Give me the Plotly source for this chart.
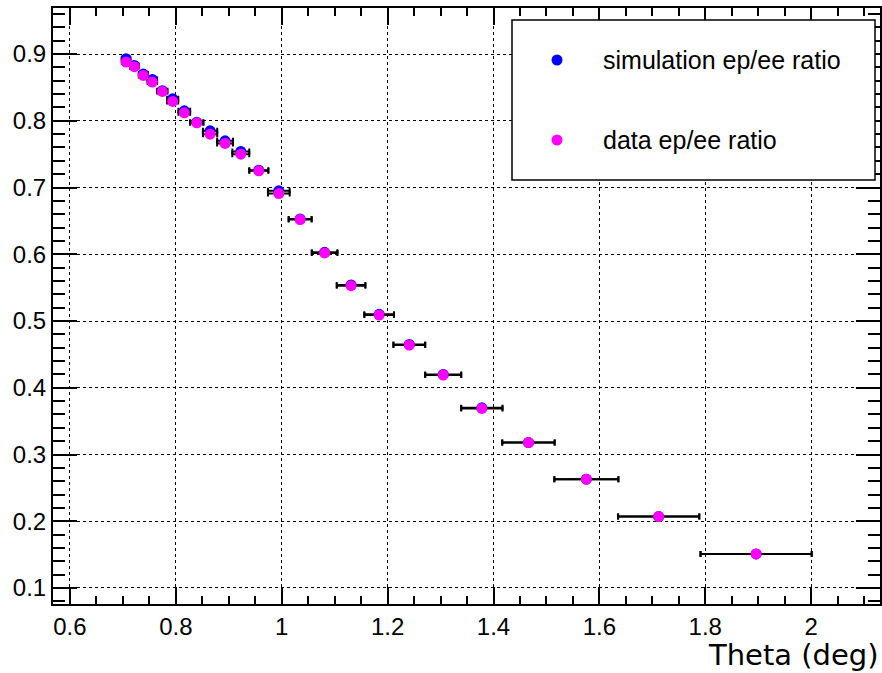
import plotly.graph_objects as go

# ---- data ----
theta = [0.706, 0.7216, 0.7386, 0.7556, 0.7745, 0.794, 0.816, 0.8395, 0.8647, 0.893,
         0.9227, 0.9567, 0.9945, 1.0348, 1.081, 1.131, 1.184, 1.241, 1.305, 1.378,
         1.466, 1.5754, 1.712, 1.896]
theta_err = [0.008, 0.008, 0.0085, 0.009, 0.0095, 0.0105, 0.011, 0.0125, 0.0135, 0.015,
             0.016, 0.018, 0.0205, 0.0217, 0.0242, 0.027, 0.028, 0.030, 0.034, 0.039,
             0.0495, 0.0605, 0.0767, 0.105]
sim_ratio = [0.893, 0.883, 0.870, 0.862, 0.845, 0.833, 0.815, 0.798, 0.785, 0.770,
             0.754, 0.726, 0.695, 0.653, 0.603, 0.554, 0.510, 0.465, 0.420, 0.370,
             0.318, 0.263, 0.207, 0.151]
data_ratio = [0.888, 0.881, 0.868, 0.858, 0.844, 0.829, 0.812, 0.797, 0.780, 0.766,
              0.750, 0.725, 0.691, 0.652, 0.602, 0.553, 0.509, 0.464, 0.419, 0.369,
              0.318, 0.263, 0.207, 0.151]
series_names = ["simulation ep/ee ratio", "data ep/ee ratio"]
x_title = "Theta (deg)"

W, H = 882, 673
L, R, T, B = 53, 2, 8, 69
pw, ph = W - L - R, H - T - B

def px_x(p):
    return (p - L) / pw

def px_y(p):
    return (H - B - p) / ph

err = dict(type="data", array=theta_err, visible=True, color="black", thickness=2, width=3)

fig = go.Figure()
fig.add_trace(go.Scatter(x=theta, y=sim_ratio, mode="markers", name=series_names[0],
                         marker=dict(color="#0000ff", size=11, line=dict(width=0)),
                         error_x=err))
fig.add_trace(go.Scatter(x=theta, y=data_ratio, mode="markers", name=series_names[1],
                         marker=dict(color="#ff00ff", size=11, line=dict(width=0)),
                         error_x=err))

FONT = "Arial"
tickfont = dict(family=FONT, size=24, color="black")

fig.update_layout(
    width=W, height=H,
    margin=dict(l=L, r=R, t=T, b=B),
    paper_bgcolor="white", plot_bgcolor="white",
    showlegend=False,
    font=dict(family=FONT),
    xaxis=dict(range=[0.568, 2.13], dtick=0.2, tick0=0, ticks="inside", ticklen=17,
               tickwidth=1.5, tickcolor="black", showline=True, linecolor="black",
               linewidth=2, mirror="allticks", showgrid=True, gridcolor="black",
               griddash="dot", gridwidth=1, zeroline=False, tickfont=tickfont,
               automargin=False,
               minor=dict(dtick=0.05, ticks="inside", ticklen=8, tickwidth=1.5,
                          tickcolor="black", showgrid=False)),
    yaxis=dict(range=[0.076, 0.969], dtick=0.1, tick0=0, ticks="inside", ticklen=24,
               tickwidth=1.5, tickcolor="black", showline=True, linecolor="black",
               linewidth=2, mirror="allticks", showgrid=True, gridcolor="black",
               griddash="dot", gridwidth=1, zeroline=False, tickfont=tickfont,
               automargin=False,
               minor=dict(dtick=0.02, ticks="inside", ticklen=12, tickwidth=1.5,
                          tickcolor="black", showgrid=False)),
)

# legend box drawn manually to match the reference layout
fig.add_shape(type="rect", xref="paper", yref="paper",
              x0=px_x(512), x1=px_x(875), y0=px_y(180), y1=px_y(20),
              line=dict(color="black", width=1.5), fillcolor="white", layer="above")
for cy, col in [(60, "#0000ff"), (140, "#ff00ff")]:
    fig.add_shape(type="circle", xref="paper", yref="paper",
                  xsizemode="pixel", ysizemode="pixel",
                  xanchor=px_x(557), yanchor=px_y(cy),
                  x0=-5.5, x1=5.5, y0=-5.5, y1=5.5,
                  line=dict(width=0), fillcolor=col, layer="above")
for cy, name in [(60, series_names[0]), (140, series_names[1])]:
    fig.add_annotation(x=px_x(601), y=px_y(cy), xref="paper", yref="paper",
                       text=name, showarrow=False, xanchor="left", yanchor="middle",
                       font=dict(family=FONT, size=25, color="black"))

fig.add_annotation(x=1, y=px_y(673), xref="paper", yref="paper", text=x_title,
                   showarrow=False, xanchor="right", yanchor="bottom", borderpad=0,
                   font=dict(family="DejaVu Sans", size=29, color="black"))

fig.write_html("out.html",
               config={"displayModeBar": False},
               post_script="document.body.style.margin='0';"
                           "document.body.style.overflow='hidden';")
